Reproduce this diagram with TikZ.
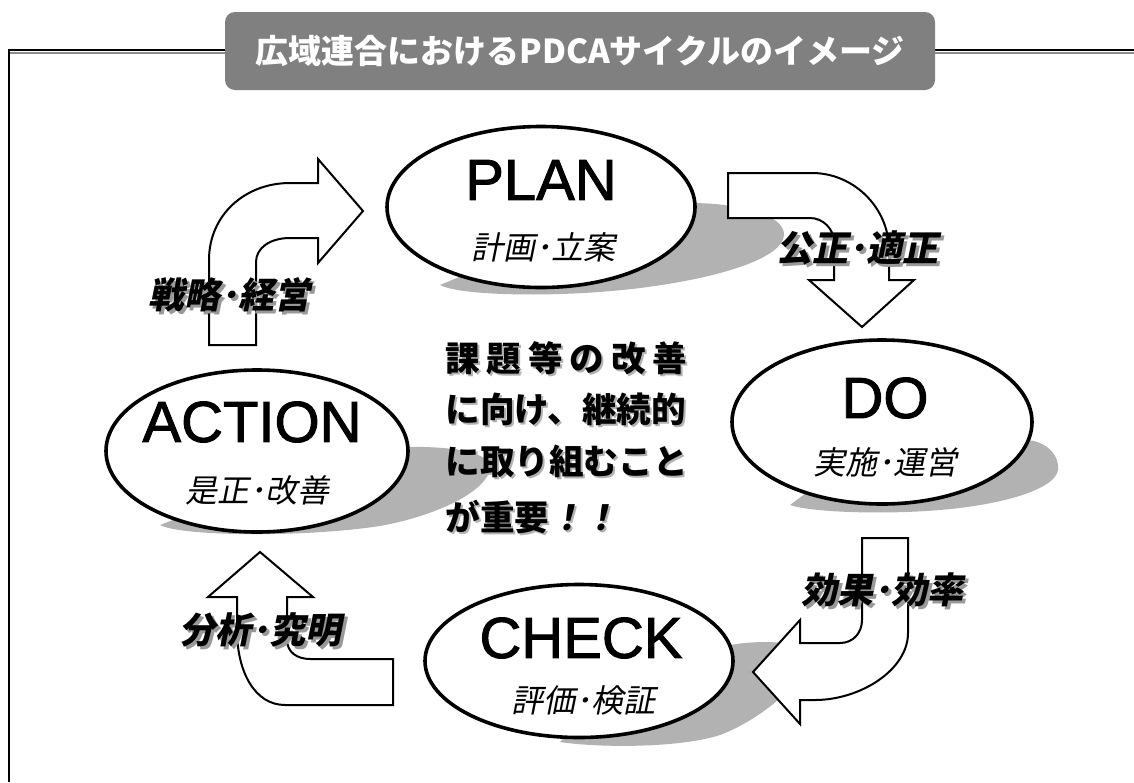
\documentclass[tikz,border=0pt]{standalone}
\usepackage{fontspec}
\setmainfont{Liberation Sans}
\newfontfamily\bigf{Liberation Sans}[FakeBold=1.6]
\newfontfamily\jp{Noto Sans CJK JP}
\newfontfamily\jpsl{Noto Sans CJK JP}[FakeSlant=0.2]
\usetikzlibrary{shapes.geometric}
\tikzset{
  ell/.style={ellipse, draw, line width=1.8pt, fill=white, inner sep=0pt},
  big/.style={font=\bigf\fontsize{29}{29}\selectfont, inner sep=0pt},
  subt/.style={font=\jpsl\fontsize{16}{16}\selectfont, inner sep=0pt},
  lbl/.style={font=\jpsl\bfseries\fontsize{18}{18}\selectfont, inner sep=0pt},
  lblsh/.style={lbl, text=black!40},
  blockarrow/.style={draw, fill=white, line width=1pt, line join=miter},
  shade/.style={fill=black!30},
  ctext/.style={font=\jp\bfseries\fontsize{17.3}{17.3}\selectfont, inner sep=0pt, anchor=west},
  ctextsh/.style={ctext, text=black!30},
  titlebox/.style={fill=black!50, rounded corners=5pt, minimum width=355pt, minimum height=39pt, inner sep=0pt,
    text=white, font=\jp\bfseries\fontsize{16.5}{16.5}\selectfont},
}
\begin{document}
\begin{tikzpicture}[x=0.5pt,y=-0.5pt]
\useasboundingbox (0,0) rectangle (1134,782);
\fill[white] (0,0) rectangle (1134,782);
% frame
\draw[black!45, line width=0.8pt] (9,53) -- (1134,53);
\draw[line width=1.1pt] (9,782) -- (9,50) -- (1134,50);
% title
\node[titlebox] (title) at (580,51) {広域連合におけるPDCAサイクルのイメージ};
% shadows
\path[shade] (500,260) -- (690,203) .. controls (740,203) and (785,215) .. (784,235)
  .. controls (783,258) and (720,278) .. (640,288) .. controls (560,298) and (460,296) .. (440,285) -- cycle;
\path[shade] (850,460) -- (1025,440) .. controls (1045,440) and (1060,455) .. (1058,470)
  .. controls (1055,490) and (1000,505) .. (940,510) .. controls (880,515) and (810,512) .. (790,505) -- cycle;
\path[shade] (300,470) -- (405,447) .. controls (450,446) and (492,452) .. (490,468)
  .. controls (488,490) and (440,515) .. (380,526) .. controls (300,538) and (180,536) .. (160,525) -- cycle;
\path[shade] (600,700) -- (730,645) .. controls (760,640) and (800,640) .. (805,655)
  .. controls (810,680) and (760,720) .. (720,735) .. controls (680,748) and (600,748) .. (560,742) -- cycle;
% ellipses
\node[ell, minimum width=154pt, minimum height=80.5pt] (plan) at (541,207) {};
\node[ell, minimum width=150pt, minimum height=82pt] (do) at (882,422) {};
\node[ell, minimum width=154pt, minimum height=76.5pt] (check) at (579,661) {};
\node[ell, minimum width=151pt, minimum height=81pt] (action) at (257,451) {};
\node[big] (planT) at (541,180) {PLAN};
\node[subt] (planS) at (543,247) {計画･立案};
\node[big] (doT) at (885,398) {DO};
\node[subt] (doS) at (885,462) {実施･運営};
\node[big] (checkT) at (581,638) {CHECK};
\node[subt] (checkS) at (583,700) {評価･検証};
\node[big] (actionT) at (252,422) {ACTION};
\node[subt] (actionS) at (257,490) {是正･改善};
% block arrows
\path[blockarrow] (209,345) -- (209,260) .. controls (209,215) and (245,183) .. (290,183) -- (318,183) -- (318,159)
  -- (363,211) -- (318,263) -- (318,238) -- (290,238) .. controls (270,238) and (256,248) .. (256,262) -- (256,345) -- cycle;
\path[blockarrow] (728,173) -- (812,173) .. controls (854,173) and (889,208) .. (889,250) -- (889,280) -- (914,280)
  -- (862,327) -- (809,280) -- (834,280) -- (834,242) .. controls (834,229) and (823,218) .. (810,218) -- (728,218) -- cycle;
\path[blockarrow] (862,538) -- (908,538) -- (908,633) .. controls (908,670) and (860,700) .. (815,700) -- (800,700)
  -- (800,724) -- (753,672) -- (800,620) -- (800,643) -- (840,643) .. controls (853,643) and (862,633) .. (862,620) -- cycle;
\path[blockarrow] (393,659) -- (310,659) .. controls (297,659) and (287,652) .. (287,640) -- (287,597) -- (313,597)
  -- (260,552) -- (208,597) -- (237,597) -- (237,630) .. controls (237,672) and (255,705) .. (285,705) -- (393,705) -- cycle;
% arrow labels
\node[lblsh] at (232,298) {戦略･経営};
\node[lbl] (l1) at (229,295) {戦略･経営};
\node[lblsh] at (860,251) {公正･適正};
\node[lbl] (l2) at (857,248) {公正･適正};
\node[lblsh] at (885,593) {効果･効率};
\node[lbl] (l3) at (882,590) {効果･効率};
\node[lblsh] at (263,633) {分析･究明};
\node[lbl] (l4) at (260,630) {分析･究明};
% central text
\node[ctextsh] at (447,360) {\hbox to 121pt{課\hfill 題\hfill 等\hfill の\hfill 改\hfill 善}};
\node[ctextsh] at (447,411) {に向け、継続的};
\node[ctextsh] at (447,463) {に取り組むこと};
\node[ctextsh] at (447,519) {が重要{\jpsl ！！}};
\node[ctext] (c1) at (445,358) {\hbox to 121pt{課\hfill 題\hfill 等\hfill の\hfill 改\hfill 善}};
\node[ctext] (c2) at (445,409) {に向け、継続的};
\node[ctext] (c3) at (445,461) {に取り組むこと};
\node[ctext] (c4) at (445,517) {が重要{\jpsl ！！}};
\end{tikzpicture}
\end{document}
